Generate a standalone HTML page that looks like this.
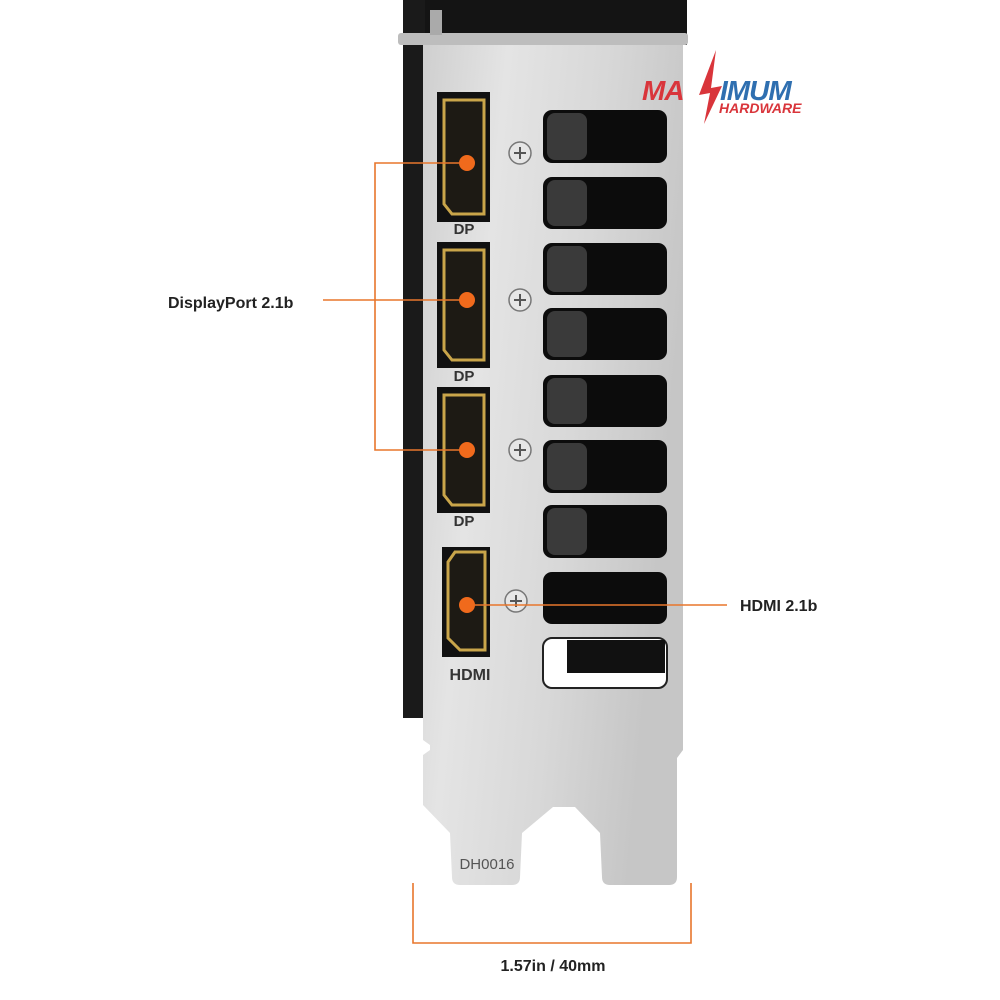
<!DOCTYPE html>
<html><head><meta charset="utf-8"><style>
html,body{margin:0;padding:0;background:#fff;}
svg{display:block;}
text{font-family:"Liberation Sans",sans-serif;}
</style></head><body>
<svg width="1000" height="1000" viewBox="0 0 1000 1000" xmlns="http://www.w3.org/2000/svg">
<defs>
<linearGradient id="sil" x1="0" x2="1" y1="0" y2="0.3">
<stop offset="0" stop-color="#cfcfcf"/><stop offset="0.3" stop-color="#e4e4e4"/><stop offset="0.65" stop-color="#d8d8d8"/><stop offset="1" stop-color="#c6c6c6"/>
</linearGradient>
</defs>
<rect x="403" y="0" width="284" height="45" fill="#141414"/>
<rect x="403" y="0" width="22" height="718" fill="#1a1a1a"/>
<rect x="398" y="33" width="290" height="12" rx="3" fill="#bdbdbd"/>
<rect x="430" y="10" width="12" height="25" fill="#aaa"/>
<path d="M423 45 L683 45 L683 750 L677 758 L677 877 Q677 885 669 885 L610 885 Q602 885 602 877 L600 833 L575 807 L553 807 L522 833 L520 877 Q520 885 512 885 L460 885 Q452 885 452 877 L450 833 L423 805 L423 755 L430 750 L430 745 L423 740 Z" fill="url(#sil)"/>
<g fill="#0c0c0c">
<rect x="543" y="110" width="124" height="53" rx="9"/>
<rect x="543" y="177" width="124" height="52" rx="9"/>
<rect x="543" y="243" width="124" height="52" rx="9"/>
<rect x="543" y="308" width="124" height="52" rx="9"/>
<rect x="543" y="375" width="124" height="52" rx="9"/>
<rect x="543" y="440" width="124" height="53" rx="9"/>
<rect x="543" y="505" width="124" height="53" rx="9"/>
<rect x="543" y="572" width="124" height="52" rx="9"/>
</g>
<g fill="#3a3a3a">
<rect x="547" y="113" width="40" height="47" rx="8"/>
<rect x="547" y="180" width="40" height="46" rx="8"/>
<rect x="547" y="246" width="40" height="46" rx="8"/>
<rect x="547" y="311" width="40" height="46" rx="8"/>
<rect x="547" y="378" width="40" height="46" rx="8"/>
<rect x="547" y="443" width="40" height="47" rx="8"/>
<rect x="547" y="508" width="40" height="47" rx="8"/>
</g>
<rect x="543" y="638" width="124" height="50" rx="9" fill="#fff" stroke="#222" stroke-width="2"/>
<rect x="567" y="640" width="98" height="33" fill="#111"/>
<g>
<path d="M437 92 L490 92 L490 222 L437 222 Z" fill="#111"/>
<path d="M444 100 L484 100 L484 214 L452 214 L444 204 Z" fill="#1d1a14" stroke="#c9a54a" stroke-width="3"/>
<path d="M437 242 L490 242 L490 368 L437 368 Z" fill="#111"/>
<path d="M444 250 L484 250 L484 360 L452 360 L444 350 Z" fill="#1d1a14" stroke="#c9a54a" stroke-width="3"/>
<path d="M437 387 L490 387 L490 513 L437 513 Z" fill="#111"/>
<path d="M444 395 L484 395 L484 505 L452 505 L444 495 Z" fill="#1d1a14" stroke="#c9a54a" stroke-width="3"/>
<path d="M442 547 L490 547 L490 657 L442 657 Z" fill="#111"/>
<path d="M455 552 L485 552 L485 650 L460 650 L448 638 L448 562 Z" fill="#1d1a14" stroke="#c9a54a" stroke-width="3"/>
</g>
<g font-size="15" font-weight="bold" fill="#333" text-anchor="middle">
<text x="464" y="234">DP</text>
<text x="464" y="381">DP</text>
<text x="464" y="526">DP</text>
<text x="470" y="680" font-size="16">HDMI</text>
<text x="487" y="869" font-size="15" font-weight="normal" fill="#555">DH0016</text>
</g>
<g fill="#e6e6e6" stroke="#777" stroke-width="1.5">
<circle cx="520" cy="153" r="11"/><circle cx="520" cy="300" r="11"/><circle cx="520" cy="450" r="11"/><circle cx="516" cy="601" r="11"/>
</g>
<g stroke="#555" stroke-width="2">
<path d="M520 147v12M514 153h12"/><path d="M520 294v12M514 300h12"/><path d="M520 444v12M514 450h12"/><path d="M516 595v12M510 601h12"/>
</g>
<g stroke="#e8762c" stroke-width="1.6" fill="none">
<path d="M467 163 H375 V450 H467"/>
<path d="M323 300 H467"/>
<path d="M467 605 H727"/>
<path d="M413 883 V943 H691 V883"/>
</g>
<g fill="#f06a1c">
<circle cx="467" cy="163" r="8"/><circle cx="467" cy="300" r="8"/><circle cx="467" cy="450" r="8"/><circle cx="467" cy="605" r="8"/>
</g>
<g font-size="16" font-weight="bold" fill="#222">
<text x="168" y="308">DisplayPort 2.1b</text>
<text x="740" y="611">HDMI 2.1b</text>
<text x="553" y="971" text-anchor="middle">1.57in / 40mm</text>
</g>
<g font-style="italic" font-weight="bold">
<text x="642" y="100" font-size="28" fill="#d9353b" letter-spacing="-1">MA</text>
<text x="720" y="100" font-size="28" fill="#2f6fb0" letter-spacing="-1">IMUM</text>
<path d="M716 50 L699 95 L710 93 L704 124 L722 86 L711 88 Z" fill="#d9353b"/>
<text x="719" y="113" font-size="14" fill="#d9353b">HARDWARE</text>
</g>
</svg>
</body></html>
